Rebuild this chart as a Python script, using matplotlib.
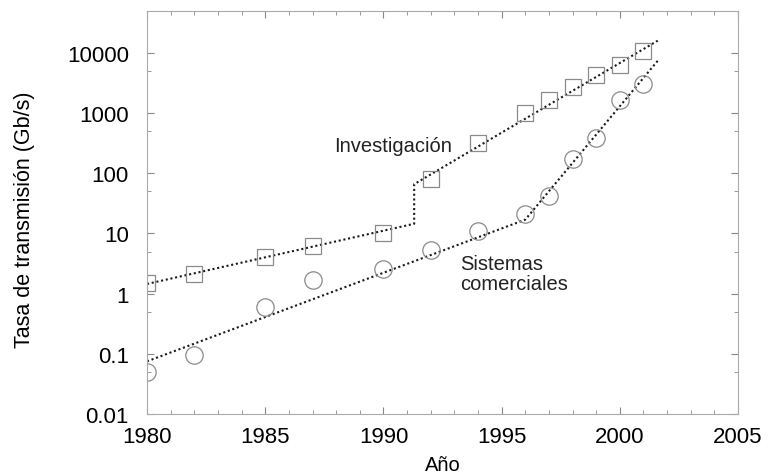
import matplotlib
matplotlib.use("Agg")
import matplotlib.pyplot as plt
from matplotlib.ticker import FixedLocator, MultipleLocator, FixedFormatter


# ==============================
# DATA
# ==============================

anios_inv = [1980, 1982, 1985, 1987, 1990, 1992, 1994, 1996, 1997, 1998, 1999, 2000, 2001]
tasa_inv = [1.5, 2.1, 4.1, 6.2, 10, 82, 316, 1000, 1640, 2700, 4270, 6200, 10700]

anios_com = [1980, 1982, 1985, 1987, 1990, 1992, 1994, 1996, 1997, 1998, 1999, 2000, 2001]
tasa_com = [0.049, 0.095, 0.59, 1.7, 2.6, 5.4, 11, 21, 42, 170, 385, 1640, 3100]

# lineas de tendencia (punteadas)
ajuste_inv_x = [1980, 1991.3, 1991.3, 2001.6]
ajuste_inv_y = [1.45, 14.5, 66, 16000]

ajuste_com_x = [1980, 1996, 2001.6]
ajuste_com_y = [0.075, 17, 7400]

ytick_vals = [0.01, 0.1, 1, 10, 100, 1000, 10000]
ytick_labels = ["0.01", "0.1", "1", "10", "100", "1000", "10000"]
xtick_vals = [1980, 1985, 1990, 1995, 2000, 2005]


# ==============================
# PLOT
# ==============================

plt.rcParams["font.family"] = ["Liberation Sans", "DejaVu Sans"]

fig = plt.figure(figsize=(7.73, 4.77), dpi=100)
ax = fig.add_axes([0.1902, 0.130, 0.7646, 0.845])

ax.set_yscale("log")

ax.plot(ajuste_inv_x, ajuste_inv_y, color="#1a1a1a", linestyle=(0, (1, 1.3)), linewidth=1.5)
ax.plot(ajuste_com_x, ajuste_com_y, color="#1a1a1a", linestyle=(0, (1, 1.3)), linewidth=1.5)

ax.plot(anios_inv, tasa_inv, linestyle="none", marker="s", markersize=11,
        markerfacecolor="none", markeredgecolor="#8a8a8a", markeredgewidth=0.9)
ax.plot(anios_com, tasa_com, linestyle="none", marker="o", markersize=12.5,
        markerfacecolor="none", markeredgecolor="#8a8a8a", markeredgewidth=0.9)

ax.text(1987.9, 293, "Investigación", fontsize=14.5, va="center", ha="left", color="#222222")
ax.text(1993.25, 2.15, "Sistemas\ncomerciales", fontsize=14.5, va="center", ha="left",
        color="#222222", linespacing=1.1)

ax.set_xlim(1980, 2005)
ax.set_ylim(0.01, 5e4)

ax.xaxis.set_major_locator(FixedLocator(xtick_vals))
ax.xaxis.set_minor_locator(MultipleLocator(1))
ax.yaxis.set_major_locator(FixedLocator(ytick_vals))
ax.yaxis.set_major_formatter(FixedFormatter(ytick_labels))
ax.yaxis.set_minor_locator(FixedLocator([v * 5 for v in ytick_vals]))

ax.tick_params(which="both", direction="in", top=True, right=True, color="#888888")
ax.tick_params(which="major", length=5, width=0.8)
ax.tick_params(which="minor", length=3, width=0.6)
ax.tick_params(axis="y", which="major", labelsize=16, pad=13)
ax.tick_params(axis="x", which="major", labelsize=16, pad=9)

for sp in ax.spines.values():
    sp.set_color("#aaaaaa")
    sp.set_linewidth(0.8)

ax.set_ylabel("Tasa de transmisión (Gb/s)", fontsize=15.5)
ax.set_xlabel("Año", fontsize=14.5)
ax.yaxis.set_label_coords(-0.19, 0.484)
ax.xaxis.set_label_coords(0.501, -0.102)

fig.savefig("out.png", dpi=100)
